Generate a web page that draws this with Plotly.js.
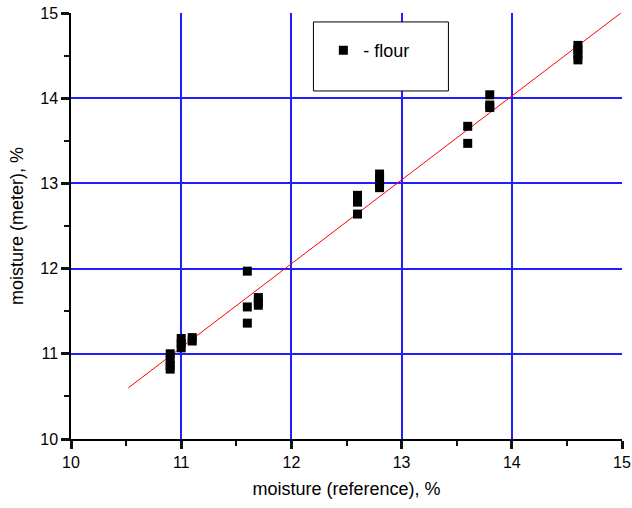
<!DOCTYPE html>
<html>
<head>
<meta charset="utf-8">
<script src="https://cdn.plot.ly/plotly-3.0.1.min.js"></script>
<style>html,body{margin:0;padding:0;background:#fff;}#chart{width:632px;height:508px;}</style>
</head>
<body>
<div id="chart"></div>
<script>
// Measured points: reference moisture vs meter moisture (flour)
var refMoisture = [10.9, 10.9, 10.9, 10.9, 11.0, 11.0, 11.0, 11.1, 11.1,
  11.6, 11.6, 11.6, 11.7, 11.7, 11.7, 12.6, 12.6, 12.6, 12.8, 12.8, 12.8, 12.8,
  13.6, 13.6, 13.8, 13.8, 13.8, 14.6, 14.6, 14.6, 14.6];
var meterMoisture = [11.0, 10.93, 10.86, 10.82, 11.18, 11.12, 11.07, 11.19, 11.15,
  11.97, 11.55, 11.36, 11.66, 11.61, 11.57, 12.86, 12.78, 12.64, 13.11, 13.05, 13.0, 12.95,
  13.67, 13.47, 14.04, 13.92, 13.89, 14.62, 14.57, 14.51, 14.45];
// Fitted line end points
var fitX = [10.52, 14.99];
var fitY = [10.6, 15.0];
var seriesName = "- flour";
var xTitle = "moisture (reference), %";
var yTitle = "moisture (meter), %";

var font = "Liberation Sans, Arial, sans-serif";

var traces = [
  {x: fitX, y: fitY, mode: "lines", line: {color: "#ff0000", width: 1}, showlegend: false, hoverinfo: "skip"},
  {x: refMoisture, y: meterMoisture, mode: "markers", name: seriesName,
   marker: {symbol: "square", size: 9, color: "#000000", line: {width: 0}}}
];

function axisCommon() {
  return {
    range: [10, 15], dtick: 1,
    showline: true, linecolor: "#000000", linewidth: 1.5,
    ticks: "outside", ticklen: 8, tickwidth: 2.5, tickcolor: "#111111",
    minor: {dtick: 0.5, ticks: "outside", ticklen: 5, tickwidth: 2, tickcolor: "#111111"},
    showgrid: true, gridcolor: "#1f1fff", gridwidth: 1.8,
    tickfont: {family: font, size: 16, color: "#000000"}
  };
}

var layout = {
  width: 632, height: 508,
  margin: {l: 71, r: 10, t: 13, b: 69},
  paper_bgcolor: "#ffffff", plot_bgcolor: "#ffffff",
  xaxis: Object.assign(axisCommon(), {
    title: {text: xTitle, font: {family: font, size: 18, color: "#000000"}, standoff: 12}
  }),
  yaxis: Object.assign(axisCommon(), {
    title: {text: yTitle, font: {family: font, size: 18, color: "#000000"}, standoff: 12}
  }),
  showlegend: true,
  legend: {x: 0.458, y: 0.955, xanchor: "left", yanchor: "top",
    bgcolor: "rgba(0,0,0,0)", borderwidth: 0,
    font: {family: font, size: 18, color: "#000000"}},
  shapes: [
    {type: "rect", xref: "paper", yref: "paper", x0: 0.440, x1: 0.685, y0: 0.817, y1: 0.979,
     line: {color: "#000000", width: 1}, fillcolor: "#ffffff", layer: "above"}
  ]
};

Plotly.newPlot("chart", traces, layout, {displayModeBar: false});
</script>
</body>
</html>
